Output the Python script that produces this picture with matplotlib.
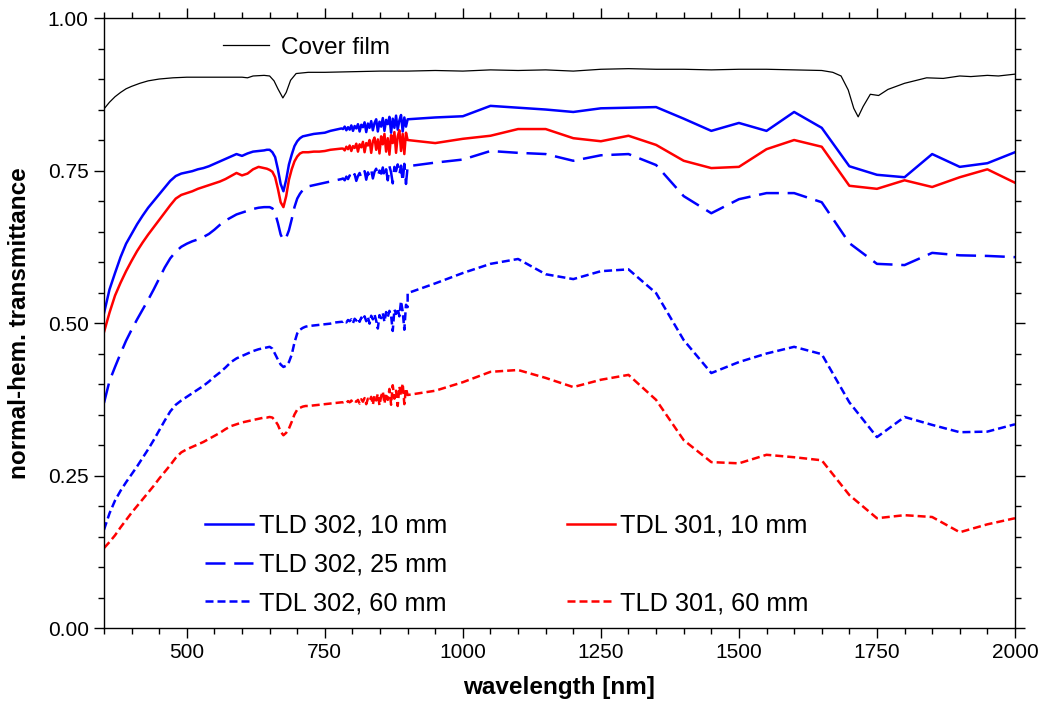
import numpy as np
import matplotlib
matplotlib.use("Agg")
import matplotlib.pyplot as plt
from matplotlib.lines import Line2D
from matplotlib.ticker import MultipleLocator, FormatStrFormatter

plt.rcParams['font.family'] = ['Liberation Sans', 'DejaVu Sans']

# wavelength grid of the spectrometer part (finer around the 675 nm dip, dense in the noisy end)
wl_vis = np.concatenate([np.arange(350, 641, 10), np.arange(645, 716, 5),
                         np.arange(720, 781, 10), np.arange(783, 901, 3)])
# wavelength grid of the NIR part
wl_nir = np.concatenate([[900, 950], np.arange(1000, 2001, 50)])

# TLD 302, 10 mm
b10_vis = [0.516, 0.555, 0.582, 0.608, 0.630, 0.646, 0.662, 0.676, 0.689, 0.700,
           0.711, 0.722, 0.733, 0.741, 0.745, 0.747, 0.749, 0.752, 0.754, 0.757,
           0.761, 0.765, 0.769, 0.773, 0.777, 0.774, 0.778, 0.781, 0.782, 0.783,
           0.784, 0.784, 0.780, 0.772, 0.752, 0.728, 0.716, 0.735, 0.760, 0.776,
           0.790, 0.798, 0.803, 0.806, 0.807,
           0.808, 0.810, 0.811, 0.812, 0.815, 0.817, 0.819,
           0.818, 0.822, 0.816, 0.821, 0.817, 0.824, 0.815, 0.823, 0.819, 0.826,
           0.814, 0.825, 0.821, 0.829, 0.813, 0.827, 0.820, 0.831, 0.816, 0.828,
           0.834, 0.814, 0.830, 0.822, 0.836, 0.815, 0.833, 0.826, 0.838, 0.812,
           0.835, 0.820, 0.840, 0.817, 0.832, 0.841, 0.814, 0.837, 0.822, 0.834]
b10_nir = [0.834, 0.837, 0.839, 0.856, 0.853, 0.850, 0.846, 0.852, 0.853, 0.854,
           0.835, 0.815, 0.828, 0.815, 0.846, 0.820, 0.757, 0.743, 0.739, 0.777,
           0.756, 0.762, 0.780]

# TDL 301, 10 mm
r10_vis = [0.485, 0.517, 0.545, 0.566, 0.585, 0.602, 0.618, 0.632, 0.645, 0.657,
           0.669, 0.681, 0.693, 0.704, 0.710, 0.713, 0.716, 0.720, 0.723, 0.726,
           0.729, 0.732, 0.736, 0.741, 0.746, 0.742, 0.745, 0.752, 0.756, 0.754,
           0.753, 0.751, 0.748, 0.739, 0.720, 0.698, 0.690, 0.708, 0.735, 0.752,
           0.765, 0.773, 0.778, 0.780, 0.780,
           0.780, 0.781, 0.781, 0.782, 0.784, 0.785, 0.786,
           0.786, 0.783, 0.789, 0.785, 0.791, 0.782, 0.790, 0.787, 0.794, 0.781,
           0.793, 0.788, 0.797, 0.780, 0.795, 0.791, 0.800, 0.779, 0.798, 0.804,
           0.784, 0.801, 0.778, 0.806, 0.793, 0.810, 0.781, 0.803, 0.776, 0.808,
           0.795, 0.813, 0.779, 0.806, 0.816, 0.782, 0.810, 0.777, 0.812, 0.800]
r10_nir = [0.800, 0.795, 0.802, 0.807, 0.818, 0.818, 0.803, 0.798, 0.807, 0.792,
           0.766, 0.754, 0.756, 0.785, 0.800, 0.789, 0.725, 0.720, 0.734, 0.723,
           0.739, 0.752, 0.730]

# TLD 302, 25 mm
b25_vis = [0.369, 0.405, 0.428, 0.450, 0.471, 0.489, 0.506, 0.522, 0.538, 0.555,
           0.573, 0.591, 0.606, 0.617, 0.625, 0.630, 0.634, 0.637, 0.641, 0.646,
           0.653, 0.661, 0.668, 0.673, 0.678, 0.681, 0.684, 0.687, 0.689, 0.690,
           0.690, 0.690, 0.688, 0.680, 0.664, 0.645, 0.636, 0.640, 0.652, 0.670,
           0.690, 0.704, 0.712, 0.718, 0.722,
           0.724, 0.726, 0.728, 0.730, 0.732, 0.734, 0.736,
           0.737, 0.734, 0.740, 0.736, 0.742, 0.735, 0.739, 0.744, 0.733, 0.741,
           0.746, 0.738, 0.743, 0.749, 0.735, 0.747, 0.741, 0.751, 0.737, 0.748,
           0.753, 0.740, 0.750, 0.745, 0.755, 0.738, 0.752, 0.734, 0.757, 0.747,
           0.729, 0.756, 0.749, 0.760, 0.743, 0.758, 0.731, 0.761, 0.728, 0.757]
b25_nir = [0.757, 0.763, 0.768, 0.782, 0.779, 0.777, 0.766, 0.775, 0.777, 0.759,
           0.708, 0.680, 0.703, 0.713, 0.713, 0.698, 0.631, 0.597, 0.595, 0.615,
           0.611, 0.610, 0.608]

# TDL 302, 60 mm
b60_vis = [0.161, 0.188, 0.209, 0.225, 0.239, 0.252, 0.265, 0.279, 0.293, 0.308,
           0.324, 0.340, 0.355, 0.366, 0.373, 0.379, 0.385, 0.391, 0.397, 0.404,
           0.412, 0.419, 0.427, 0.436, 0.442, 0.446, 0.450, 0.454, 0.457, 0.459,
           0.460, 0.461, 0.458, 0.449, 0.440, 0.432, 0.428, 0.430, 0.436, 0.448,
           0.468, 0.483, 0.489, 0.492, 0.494,
           0.495, 0.496, 0.497, 0.498, 0.499, 0.501, 0.502,
           0.502, 0.504, 0.501, 0.505, 0.503, 0.506, 0.500, 0.507, 0.504, 0.508,
           0.502, 0.509, 0.505, 0.511, 0.503, 0.510, 0.499, 0.512, 0.506, 0.514,
           0.504, 0.491, 0.513, 0.508, 0.516, 0.502, 0.518, 0.510, 0.520, 0.512,
           0.487, 0.522, 0.515, 0.524, 0.511, 0.536, 0.519, 0.489, 0.530, 0.526]
b60_nir = [0.549, 0.565, 0.582, 0.597, 0.605, 0.580, 0.572, 0.585, 0.588, 0.549,
           0.472, 0.418, 0.436, 0.450, 0.461, 0.449, 0.370, 0.313, 0.346, 0.333,
           0.321, 0.322, 0.334]

# TLD 301, 60 mm
r60_vis = [0.131, 0.141, 0.152, 0.165, 0.177, 0.189, 0.200, 0.211, 0.222, 0.233,
           0.245, 0.256, 0.267, 0.279, 0.288, 0.293, 0.297, 0.301, 0.305, 0.310,
           0.315, 0.320, 0.326, 0.331, 0.334, 0.337, 0.339, 0.341, 0.343, 0.345,
           0.345, 0.346, 0.345, 0.340, 0.333, 0.322, 0.316, 0.320, 0.327, 0.338,
           0.350, 0.358, 0.361, 0.363, 0.364,
           0.364, 0.365, 0.366, 0.367, 0.368, 0.369, 0.370,
           0.370, 0.371, 0.369, 0.372, 0.370, 0.373, 0.369, 0.372, 0.371, 0.374,
           0.368, 0.375, 0.371, 0.377, 0.367, 0.376, 0.372, 0.379, 0.366, 0.381,
           0.373, 0.384, 0.365, 0.380, 0.388, 0.368, 0.385, 0.374, 0.392, 0.366,
           0.398, 0.376, 0.389, 0.364, 0.396, 0.381, 0.401, 0.367, 0.393, 0.382]
r60_nir = [0.382, 0.389, 0.403, 0.420, 0.423, 0.410, 0.395, 0.407, 0.415, 0.374,
           0.308, 0.272, 0.270, 0.284, 0.280, 0.275, 0.218, 0.180, 0.185, 0.182,
           0.157, 0.170, 0.180]

# cover film
cover_wl = [350, 360, 370, 380, 390, 400, 415, 430, 450, 475, 500, 550, 600, 610, 620,
            640, 650, 658, 665, 674, 680, 688, 698, 720, 750, 800, 850, 900, 950, 1000,
            1050, 1100, 1150, 1200, 1250, 1300, 1350, 1400, 1450, 1500, 1550, 1600,
            1650, 1670, 1685, 1698, 1708, 1716, 1725, 1738, 1753, 1770, 1800, 1840,
            1870, 1900, 1920, 1950, 1970, 2000]
cover_t = [0.851, 0.862, 0.871, 0.878, 0.884, 0.888, 0.893, 0.897, 0.900, 0.902,
           0.903, 0.903, 0.903, 0.902, 0.905, 0.906, 0.905, 0.897, 0.884, 0.869,
           0.878, 0.898, 0.909, 0.911, 0.911, 0.912, 0.913, 0.913, 0.914, 0.913,
           0.915, 0.914, 0.915, 0.913, 0.916, 0.917, 0.916, 0.916, 0.915, 0.916,
           0.916, 0.915, 0.914, 0.911, 0.905, 0.882, 0.852, 0.838, 0.855, 0.875,
           0.873, 0.883, 0.893, 0.902, 0.901, 0.905, 0.904, 0.906, 0.905, 0.908]

BLUE = '#0000ff'
RED = '#ff0000'
LW = 1.8
long_dash = (0, (8, 3.5))
short_dash = (0, (3.2, 1.6))

fig = plt.figure(figsize=(10.44, 7.07), dpi=100)
ax = fig.add_axes([0.0996, 0.1117, 0.8726, 0.8628])

def spectrum(vis, nir):
    return np.concatenate([wl_vis, wl_nir]), np.concatenate([vis, nir])

ax.plot(cover_wl, cover_t, color='black', lw=0.9)
h_b10, = ax.plot(*spectrum(b10_vis, b10_nir), color=BLUE, lw=LW)
h_r10, = ax.plot(*spectrum(r10_vis, r10_nir), color=RED, lw=LW)
h_b25, = ax.plot(*spectrum(b25_vis, b25_nir), color=BLUE, lw=LW, ls=long_dash)
h_b60, = ax.plot(*spectrum(b60_vis, b60_nir), color=BLUE, lw=LW, ls=short_dash)
h_r60, = ax.plot(*spectrum(r60_vis, r60_nir), color=RED, lw=LW, ls=short_dash)

ax.set_xlim(350, 2000)
ax.set_ylim(0, 1)
ax.xaxis.set_major_locator(MultipleLocator(250))
ax.xaxis.set_minor_locator(MultipleLocator(50))
ax.yaxis.set_major_locator(MultipleLocator(0.25))
ax.yaxis.set_minor_locator(MultipleLocator(0.05))
ax.yaxis.set_major_formatter(FormatStrFormatter('%.2f'))
ax.tick_params(which='both', direction='out', top=True, right=True, width=1.0)
ax.tick_params(which='major', length=7, labelsize=15, pad=4)
ax.tick_params(which='minor', length=4.5)
ax.tick_params(labeltop=False, labelright=False)
for s in ax.spines.values():
    s.set_linewidth(1.0)
ax.set_xticks([500, 750, 1000, 1250, 1500, 1750, 2000])

ax.set_xlabel('wavelength [nm]', fontsize=17.5, fontweight='bold', labelpad=10)
ax.set_ylabel('normal-hem. transmittance', fontsize=17.5, fontweight='bold', labelpad=12)

blank = Line2D([], [], color='none')
leg = ax.legend([h_b10, h_b25, h_b60, h_r10, blank, h_r60],
                ['TLD 302, 10 mm', 'TLD 302, 25 mm', 'TDL 302, 60 mm',
                 'TDL 301, 10 mm', '', 'TLD 301, 60 mm'],
                ncol=2, frameon=False, fontsize=18.2, handlelength=1.9,
                handletextpad=0.22, labelspacing=0.58, columnspacing=4.75,
                loc='upper left', bbox_to_anchor=(0.097, 0.208), borderpad=0)
ax.add_artist(leg)
cover_handle = Line2D([], [], color='black', lw=0.9)
ax.legend([cover_handle], ['Cover film'], frameon=False, fontsize=17.5,
          handlelength=1.9, handletextpad=0.5, loc='upper left',
          bbox_to_anchor=(0.117, 0.989), borderpad=0)

plt.savefig('out.png', dpi=100)
